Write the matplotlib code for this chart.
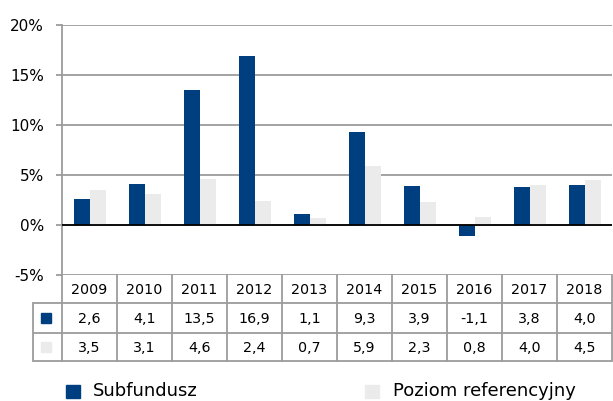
import matplotlib
matplotlib.use("Agg")
import matplotlib.pyplot as plt
from matplotlib.patches import Rectangle
from matplotlib.ticker import FuncFormatter

# data
years = ["2009", "2010", "2011", "2012", "2013", "2014", "2015", "2016", "2017", "2018"]
subfundusz = [2.6, 4.1, 13.5, 16.9, 1.1, 9.3, 3.9, -1.1, 3.8, 4.0]
poziom_ref = [3.5, 3.1, 4.6, 2.4, 0.7, 5.9, 2.3, 0.8, 4.0, 4.5]
series_names = ["Subfundusz", "Poziom referencyjny"]

BLUE = "#003F7F"
LIGHT = "#EBEBEB"
GRID = "#9C9C9C"

plt.rcParams["font.family"] = ["DejaVu Sans"]

W, H = 613, 401
fig = plt.figure(figsize=(W / 100, H / 100), dpi=100)

# plot area in pixels
left, right, top, bottom = 62, 612, 25, 275
ax = fig.add_axes([left / W, 1 - bottom / H, (right - left) / W, (bottom - top) / H])

n = len(years)
xs = list(range(n))
bw = 0.285
ax.bar([x - 0.276 for x in xs], subfundusz, width=bw, align="edge", color=BLUE, zorder=3)
ax.bar([x - 0.276 + bw for x in xs], poziom_ref, width=bw, align="edge", color=LIGHT, zorder=3)

ax.set_xlim(-0.5, n - 0.5)
ax.set_ylim(-5, 20)
ax.set_yticks([-5, 0, 5, 10, 15, 20])
ax.yaxis.set_major_formatter(FuncFormatter(lambda v, p: f"{v:.0f}%"))
ax.set_xticks([])
ax.grid(axis="y", color=GRID, linewidth=1.3, zorder=0)
ax.axhline(0, color="black", linewidth=1.3, zorder=4)
for s in ["top", "right", "bottom"]:
    ax.spines[s].set_visible(False)
ax.spines["left"].set_color(GRID)
ax.spines["left"].set_linewidth(1.3)
ax.tick_params(axis="y", length=4, width=1.3, color=GRID, pad=9, labelsize=11)

# data table under the plot, drawn in pixel coordinates
tab = fig.add_axes([0, 0, 1, 1], zorder=5)
tab.set_xlim(0, W)
tab.set_ylim(H, 0)
tab.axis("off")

colw = (right - left) / n
row_y = [275, 303, 333, 361]
tab_left = 33
lw = 1.3

for y in row_y[1:]:
    tab.plot([tab_left, right], [y, y], color=GRID, lw=lw, solid_capstyle="butt")
tab.plot([tab_left, tab_left], [row_y[1], row_y[3]], color=GRID, lw=lw)
for k in range(n + 1):
    x = left + k * colw
    tab.plot([x, x], [row_y[0], row_y[3]], color=GRID, lw=lw)

fmt = lambda v: f"{v:.1f}".replace(".", ",")
for i, yr in enumerate(years):
    cx = left + (i + 0.5) * colw
    tab.text(cx, (row_y[0] + row_y[1]) / 2 + 1, yr, ha="center", va="center", fontsize=10.3)
    tab.text(cx, (row_y[1] + row_y[2]) / 2 + 1, fmt(subfundusz[i]), ha="center", va="center", fontsize=10.3)
    tab.text(cx, (row_y[2] + row_y[3]) / 2 + 1, fmt(poziom_ref[i]), ha="center", va="center", fontsize=10.3)

# legend keys in the table
tab.add_patch(Rectangle((41, 313), 9.5, 9.5, color=BLUE))
tab.add_patch(Rectangle((41, 342), 9.5, 9.5, color=LIGHT))

# legend below
tab.add_patch(Rectangle((66, 385), 14, 13, color=BLUE))
tab.text(93, 391, series_names[0], ha="left", va="center", fontsize=13)
tab.add_patch(Rectangle((365, 385), 14, 13, color=LIGHT))
tab.text(393, 391, series_names[1], ha="left", va="center", fontsize=13)

fig.savefig("out.png", dpi=100)
